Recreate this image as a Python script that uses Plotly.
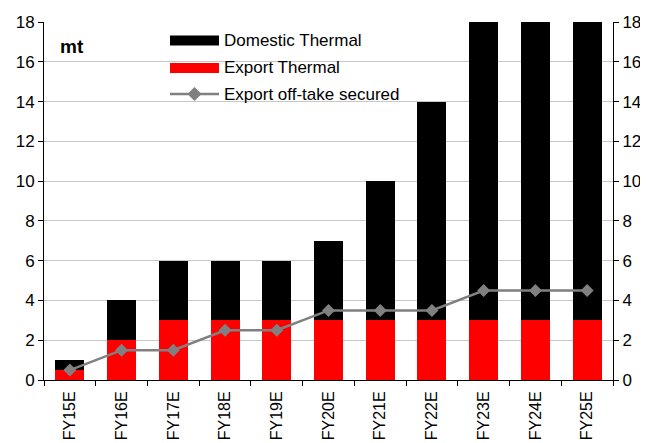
import plotly.graph_objects as go

categories = ["FY15E", "FY16E", "FY17E", "FY18E", "FY19E", "FY20E",
              "FY21E", "FY22E", "FY23E", "FY24E", "FY25E"]
export_thermal = [0.5, 2, 3, 3, 3, 3, 3, 3, 3, 3, 3]
domestic_thermal = [0.5, 2, 3, 3, 3, 4, 7, 11, 17, 19, 21]
export_offtake = [0.5, 1.5, 1.5, 2.5, 2.5, 3.5, 3.5, 3.5, 4.5, 4.5, 4.5]
y_ticks = [0, 2, 4, 6, 8, 10, 12, 14, 16, 18]

legend_names = ["Domestic Thermal", "Export Thermal", "Export off-take secured"]
BLACK, RED, GREY = "#000000", "#FF0000", "#808080"

FAMILY = "Liberation Sans, Arial, sans-serif"
font = dict(family=FAMILY, size=17, color="#000")
xfont = dict(family=FAMILY, size=16, color="#000")

# page body has an 8px margin: size the figure so it fits the 648x443 window
OFF = 8
W, H = 648 - OFF, 443 - OFF
# target plot area in window pixels: x 44..613, y 22..380
L, T = 44 - OFF, 22 - OFF
R, B = W - (613 - OFF), H - (380 - OFF)
PW, PH = W - L - R, H - T - B


def px(x):
    return (x - OFF - L) / PW


def py(y):
    return (H - B - (y - OFF)) / PH


fig = go.Figure()
fig.add_trace(go.Bar(x=categories, y=export_thermal, name=legend_names[1],
                     marker=dict(color=RED, line=dict(width=0))))
fig.add_trace(go.Bar(x=categories, y=domestic_thermal, name=legend_names[0],
                     marker=dict(color=BLACK, line=dict(width=0))))
fig.add_trace(go.Scatter(x=categories, y=export_offtake, name=legend_names[2],
                         mode="lines+markers",
                         line=dict(color=GREY, width=2.5),
                         marker=dict(symbol="diamond", size=10, color=GREY)))
fig.add_trace(go.Scatter(x=categories, y=export_offtake, yaxis="y2",
                         mode="markers", marker=dict(opacity=0), hoverinfo="skip"))

axis_common = dict(range=[0, 18], tickvals=y_ticks, ticks="outside", ticklen=5,
                   tickcolor="#000", showline=True, linecolor="#000", linewidth=1,
                   tickfont=font, zeroline=False, automargin=False)

fig.update_layout(
    barmode="stack",
    bargap=0.44,
    width=W, height=H,
    margin=dict(l=L, r=R, t=T, b=B, pad=0),
    plot_bgcolor="white", paper_bgcolor="white",
    font=font,
    showlegend=False,
    xaxis=dict(type="category", range=[-0.5, len(categories) - 0.5],
               tickangle=-90, ticks="outside", ticklen=5, ticklabelstandoff=4,
               tickson="boundaries", tickcolor="#000", showline=True,
               linecolor="#000", tickfont=xfont, showgrid=False, automargin=False),
    yaxis=dict(**axis_common, showgrid=True, gridcolor="#C8C8C8", gridwidth=1),
    yaxis2=dict(**axis_common, overlaying="y", side="right", showgrid=False,
                matches="y"),
)

# manual legend (white box hiding gridlines, swatches, labels)
shapes = [
    dict(type="rect", xref="paper", yref="paper", x0=px(150), x1=px(414),
         y0=py(115), y1=py(24), fillcolor="white", line=dict(width=0), layer="between"),
    dict(type="rect", xref="paper", yref="paper", x0=px(170), x1=px(219),
         y0=py(45.5), y1=py(35.5), fillcolor=BLACK, line=dict(width=0), layer="above"),
    dict(type="rect", xref="paper", yref="paper", x0=px(170), x1=px(219),
         y0=py(73), y1=py(63), fillcolor=RED, line=dict(width=0), layer="above"),
    dict(type="line", xref="paper", yref="paper", x0=px(170), x1=px(219),
         y0=py(94), y1=py(94), line=dict(color=GREY, width=2.5), layer="above"),
    dict(type="path", xref="paper", yref="paper",
         path="M {} {} L {} {} L {} {} L {} {} Z".format(
             px(187.5), py(94), px(194.5), py(87), px(201.5), py(94), px(194.5), py(101)),
         fillcolor=GREY, line=dict(width=0), layer="above"),
]
fig.update_layout(shapes=shapes)
for name, yc in zip(legend_names, [40.5, 67.5, 94]):
    fig.add_annotation(text=name, x=px(222), y=py(yc), xref="paper", yref="paper",
                       xanchor="left", yanchor="middle", showarrow=False,
                       font=dict(family=FAMILY, size=17, color="#000"))

fig.add_annotation(text="<b>mt</b>", x=px(58), y=py(46), xref="paper", yref="paper",
                   xanchor="left", yanchor="middle", showarrow=False,
                   font=dict(family=FAMILY, size=19, color="#000"))

fig.write_html("out.html")
